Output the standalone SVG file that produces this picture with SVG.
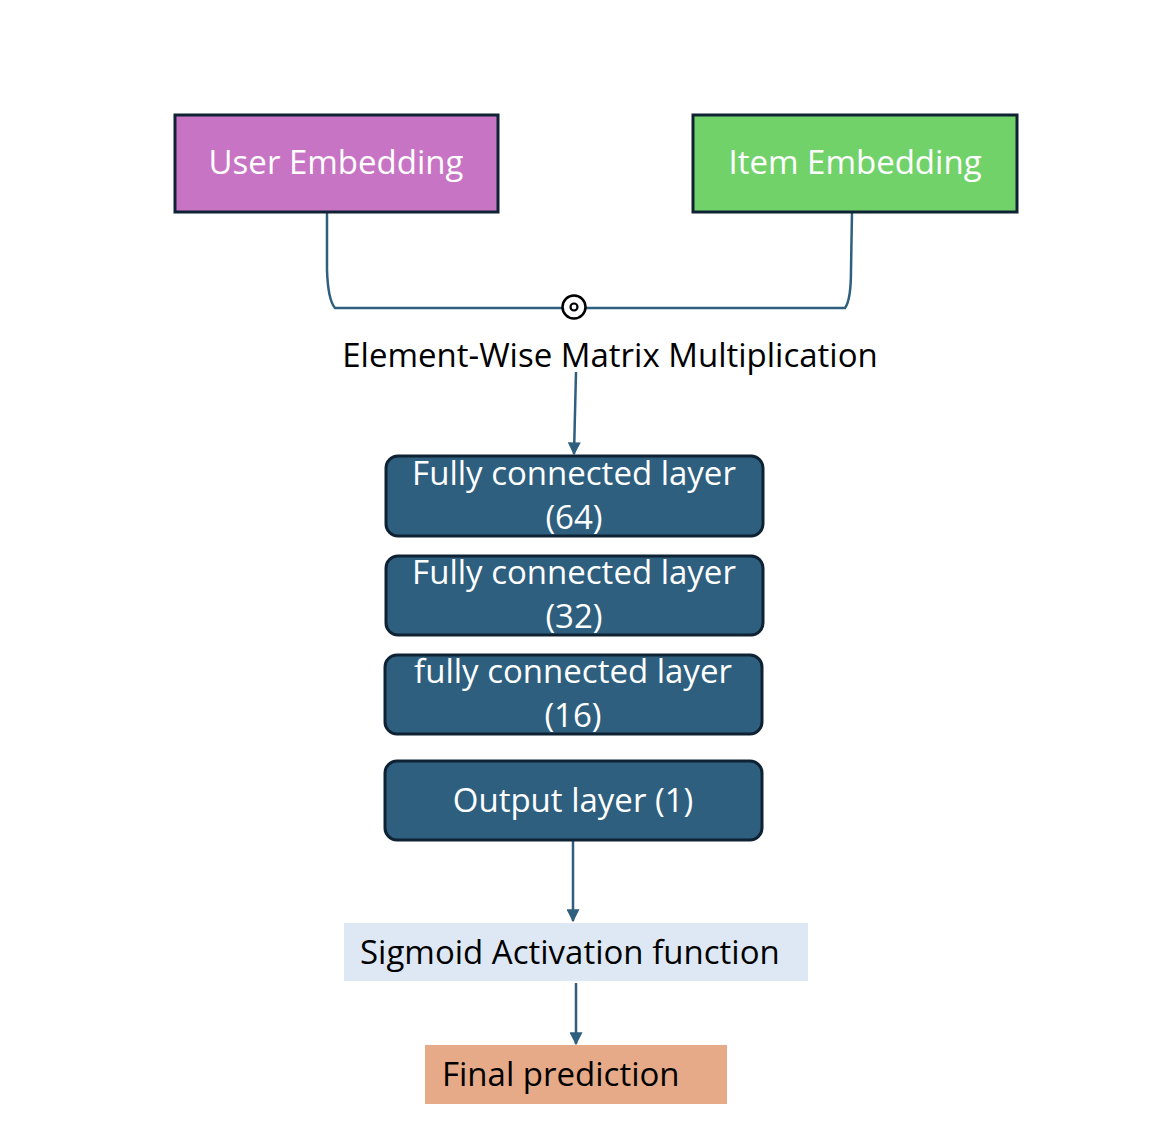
<svg xmlns="http://www.w3.org/2000/svg" width="1170" height="1136" viewBox="0 0 1170 1136">
<style>
text{font-family:"Open Sans","Liberation Sans",sans-serif}
.emb{stroke:#0f2233;stroke-width:3}
.fc{fill:#2e5f7f;stroke:#0f2233;stroke-width:3}
.wt{fill:#ffffff;font-size:33px;text-anchor:middle}
.bt{fill:#000000;font-size:33px}
.con{fill:none;stroke:#2e5f7f;stroke-width:2.5}
</style>
<defs>
<marker id="ah" viewBox="0 0 10 10" refX="9" refY="5" markerWidth="5.2" markerHeight="5.2" orient="auto" markerUnits="strokeWidth">
<path d="M0,0 L10,5 L0,10 z" fill="#2e5f7f"/>
</marker>
</defs>
<rect width="1170" height="1136" fill="#ffffff"/>
<g id="connectors">
<path class="con" d="M327,212 L327,270 Q328,300 335,308 L845,308 Q851,300 851,270 L852,212"/>
<path class="con" d="M576,372 L574,454" marker-end="url(#ah)"/>
<path class="con" d="M573,840 L573,921" marker-end="url(#ah)"/>
<path class="con" d="M576,983 L576,1044" marker-end="url(#ah)"/>
</g>
<g id="user-embedding">
<rect class="emb" x="175" y="115" width="323" height="97" fill="#c874c4"/>
<text class="wt" x="336" y="174">User Embedding</text>
</g>
<g id="item-embedding">
<rect class="emb" x="693" y="115" width="324" height="97" fill="#72d26a"/>
<text class="wt" x="855" y="174">Item Embedding</text>
</g>
<g id="elementwise">
<circle cx="574" cy="307" r="11.5" fill="#ffffff" stroke="#000000" stroke-width="2.5"/>
<circle cx="574" cy="307" r="3.5" fill="none" stroke="#000000" stroke-width="2.2"/>
<text class="bt" x="610" y="367" text-anchor="middle">Element-Wise Matrix Multiplication</text>
</g>
<g id="fc64">
<rect class="fc" x="386" y="456" width="377" height="80" rx="12"/>
<text class="wt" x="574" y="485">Fully connected layer</text>
<text class="wt" x="574" y="529">(64)</text>
</g>
<g id="fc32">
<rect class="fc" x="386" y="556" width="377" height="79" rx="12"/>
<text class="wt" x="574" y="584">Fully connected layer</text>
<text class="wt" x="574" y="628">(32)</text>
</g>
<g id="fc16">
<rect class="fc" x="385" y="655" width="377" height="79" rx="12"/>
<text class="wt" x="573" y="683">fully connected layer</text>
<text class="wt" x="573" y="727">(16)</text>
</g>
<g id="output">
<rect class="fc" x="385" y="761" width="377" height="79" rx="12"/>
<text class="wt" x="573" y="812">Output layer (1)</text>
</g>
<g id="sigmoid">
<rect x="344" y="923" width="464" height="58" fill="#dee8f4"/>
<text class="bt" x="360" y="964">Sigmoid Activation function</text>
</g>
<g id="final">
<rect x="425" y="1045" width="302" height="59" fill="#e6aa88"/>
<text class="bt" x="442" y="1086">Final prediction</text>
</g>
</svg>
